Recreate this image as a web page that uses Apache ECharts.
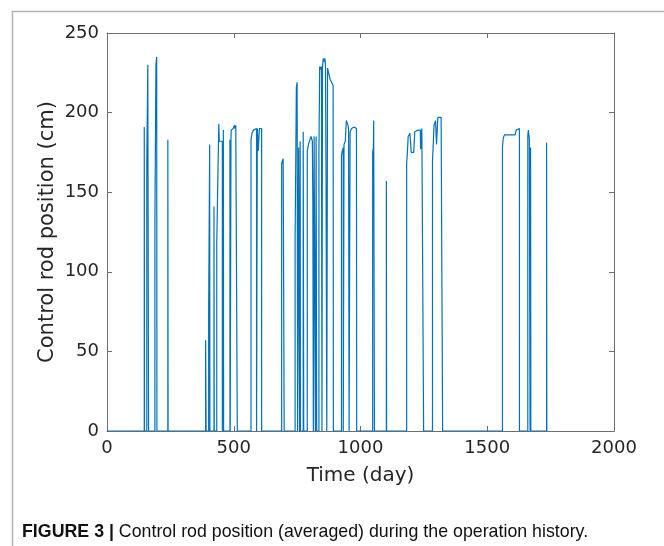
<!DOCTYPE html>
<html>
<head>
<meta charset="utf-8">
<script src="https://cdn.jsdelivr.net/npm/echarts@6/dist/echarts.min.js"></script>
<style>
  html, body { margin: 0; padding: 0; background: #fff; }
  #chart { width: 664px; height: 546px; }
</style>
</head>
<body>
<div id="chart"></div>
<script>
// time (day) and averaged control rod position (cm)
const days = [
  0, 147, 147, 148, 148,
  157, 157, 160, 161, 164, 164,
  189, 189, 192, 193, 195, 196, 197, 197,
  240, 240, 241, 241,
  389, 389, 391, 391,
  401, 401, 404, 405, 406, 406,
  422, 422, 423, 423,
  433, 433, 440, 441, 443, 443, 455, 455, 459, 459, 460, 460,
  485, 485, 486, 486, 489, 489, 490, 498, 503, 506, 508, 514, 514,
  568, 568, 572, 578, 584, 590, 590, 593, 593, 597, 597, 600, 601, 610, 610,
  689, 689, 692, 695, 699, 699,
  742, 742, 746, 747, 750, 752, 752,
  756, 756, 760, 760, 762, 762, 763, 763,
  774, 774, 776, 776,
  790, 790, 795, 800, 805, 810, 812, 814, 814,
  817, 817, 822, 822, 825, 825, 827, 827,
  836, 836, 838, 839, 844, 846, 848,
  850, 850, 853, 856, 860, 862, 864, 866, 867,
  870, 870, 876, 880, 886, 892, 893,
  925, 925, 928, 932, 932, 935, 935, 940, 944, 947, 949, 951, 953, 955, 955,
  959, 959, 965, 970, 975, 984, 985,
  1048, 1048, 1051, 1052, 1054, 1055,
  1102, 1102, 1103, 1103,
  1182, 1182, 1185, 1188, 1195, 1199, 1200, 1210, 1213, 1214, 1220, 1228, 1236, 1237, 1240, 1242, 1248, 1249,
  1284, 1284, 1287, 1290, 1296, 1299, 1300, 1304, 1305, 1318, 1320, 1324, 1324,
  1560, 1560, 1563, 1568, 1575, 1590, 1600, 1610, 1614, 1618, 1627, 1627,
  1660, 1660, 1662, 1663, 1664, 1666, 1668, 1669, 1671, 1671, 1672, 1672,
  1734, 1734, 1735, 1735
];
const rodPos = [
  0, 0, 191, 191, 0,
  0, 170, 170, 230, 230, 0,
  0, 131, 131, 230, 230, 235, 235, 0,
  0, 183, 183, 0,
  0, 57, 57, 0,
  0, 76, 76, 180, 180, 0,
  0, 141, 141, 0,
  0, 118, 118, 193, 193, 182, 182, 0, 0, 189, 189, 0,
  0, 183, 183, 0, 0, 183, 189, 190, 192, 190, 192, 192, 0,
  0, 183, 187, 189, 190, 190, 0, 0, 190, 190, 176, 176, 190, 190, 0,
  0, 168, 169, 171, 172, 0,
  0, 120, 120, 216, 219, 219, 0,
  0, 178, 178, 0, 0, 182, 182, 0,
  0, 188, 188, 0,
  0, 176, 180, 183, 185, 182, 144, 144, 0,
  0, 185, 185, 0, 0, 185, 185, 0,
  0, 175, 175, 229, 227, 229, 0,
  0, 228, 234, 232, 234, 228, 161, 161, 0,
  0, 228, 227, 221, 219, 217, 0,
  0, 173, 176, 178, 0, 0, 180, 182, 195, 195, 195, 192, 189, 189, 0,
  0, 188, 190, 190, 191, 190, 0,
  0, 175, 178, 195, 195, 0,
  0, 157, 157, 0,
  0, 168, 175, 185, 187, 188, 175, 175, 176, 188, 188, 189, 189, 177, 177, 190, 190, 0,
  0, 170, 180, 192, 195, 195, 180, 180, 197, 197, 198, 198, 0,
  0, 178, 184, 186, 187, 186, 186, 186, 189, 190, 190, 0,
  0, 185, 189, 189, 186, 184, 183, 0, 0, 178, 178, 0,
  0, 181, 181, 0
];

const xTicks = [0, 500, 1000, 1500, 2000];
const yTicks = [0, 50, 100, 150, 200, 250];

const points = days.map((d, i) => [d, rodPos[i]]);

const chart = echarts.init(document.getElementById("chart"), null, { renderer: "canvas" });

const axisGray = "#6e6e6e";
const tickFont = { fontFamily: "DejaVu Sans", fontSize: 18, color: "#262626" };
const plain = (v) => String(v);

// MATLAB-like box: ticks pointing inward on all four sides
function boxAxis(extra) {
  return Object.assign({
    type: "value",
    axisLine: { show: true, onZero: false, lineStyle: { color: axisGray, width: 1 } },
    axisTick: { show: true, inside: true, length: 5, lineStyle: { color: axisGray } },
    axisLabel: { show: false },
    splitLine: { show: false },
  }, extra);
}

const option = {
  backgroundColor: "#ffffff",
  animation: false,
  grid: { left: 107, right: 50, top: 33, bottom: 115 },
  xAxis: [
    boxAxis({
      position: "bottom",
      min: xTicks[0],
      max: xTicks[xTicks.length - 1],
      interval: 500,
      name: "Time (day)",
      nameLocation: "middle",
      nameGap: 35,
      nameTextStyle: { fontFamily: "DejaVu Sans", fontSize: 20, color: "#262626" },
      axisLabel: { ...tickFont, margin: 8, formatter: plain },
    }),
    boxAxis({
      position: "top",
      min: xTicks[0],
      max: xTicks[xTicks.length - 1],
      interval: 500,
    }),
  ],
  yAxis: [
    boxAxis({
      position: "left",
      min: yTicks[0],
      max: yTicks[yTicks.length - 1],
      interval: 50,
      name: "Control rod position (cm)",
      nameLocation: "middle",
      nameGap: 49,
      nameMoveOverlap: false,
      nameTextStyle: { fontFamily: "DejaVu Sans", fontSize: 21, color: "#262626" },
      axisLabel: { ...tickFont, margin: 8, formatter: plain },
    }),
    boxAxis({
      position: "right",
      min: yTicks[0],
      max: yTicks[yTicks.length - 1],
      interval: 50,
    }),
  ],
  series: [
    {
      name: "Control rod position",
      type: "line",
      xAxisIndex: 0,
      yAxisIndex: 0,
      data: points,
      showSymbol: false,
      symbol: "none",
      lineStyle: { color: "#0072BD", width: 1.2 },
      clip: true,
    },
  ],
  graphic: [
    {
      type: "rect",
      left: 10,
      top: 9,
      shape: { width: 700, height: 600 },
      style: { fill: "none", stroke: "#b4b4b4", lineWidth: 1.5 },
      silent: true,
    },
    {
      type: "text",
      x: 22,
      y: 522,
      scaleX: 0.936,
      style: {
        text: "{b|FIGURE 3 |}{r| Control rod position (averaged) during the operation history.}",
        rich: {
          b: { fontFamily: "Liberation Sans", fontWeight: "bold", fontSize: 19, fill: "#111" },
          r: { fontFamily: "Liberation Sans", fontSize: 19, fill: "#111" },
        },
      },
    },
  ],
};

chart.setOption(option);
</script>
</body>
</html>
